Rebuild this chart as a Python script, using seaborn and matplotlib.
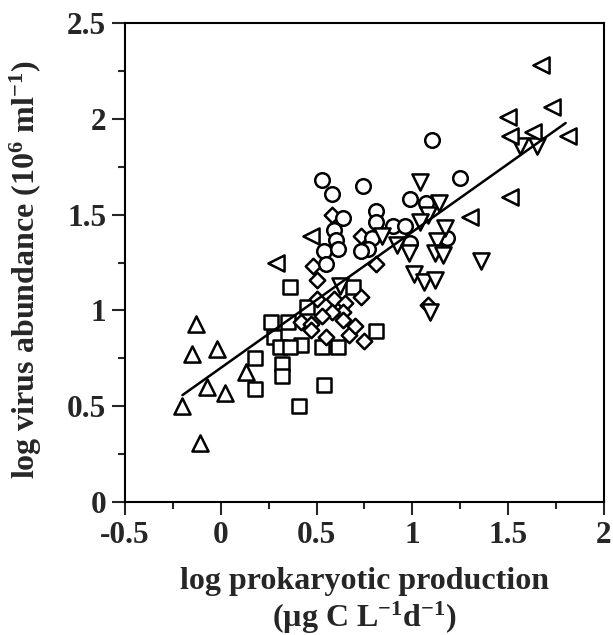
import numpy as np
import pandas as pd
import matplotlib
matplotlib.use("Agg")
import matplotlib.pyplot as plt
import seaborn as sns

# values, one pair of lists per symbol
up_x = [-0.13, -0.15, -0.02, -0.07, 0.02, 0.13, -0.20, -0.11]
up_y = [0.93, 0.77, 0.80, 0.60, 0.57, 0.68, 0.50, 0.31]

sq_x = [0.36, 0.26, 0.35, 0.28, 0.31, 0.18, 0.32, 0.32, 0.18, 0.41,
        0.54, 0.42, 0.53, 0.61, 0.81, 0.45, 0.69, 0.36]
sq_y = [1.12, 0.94, 0.94, 0.86, 0.81, 0.75, 0.72, 0.66, 0.59, 0.50,
        0.61, 0.82, 0.81, 0.81, 0.89, 1.02, 1.12, 0.81]

dia_x = [0.58, 0.73, 0.48, 0.50, 0.81, 0.73, 0.50, 0.59, 0.65, 0.64,
         0.42, 0.47, 0.58, 0.53, 0.64, 0.55, 0.67, 0.70, 0.75, 0.47, 1.08]
dia_y = [1.50, 1.39, 1.23, 1.16, 1.24, 1.07, 1.06, 1.06, 1.04, 0.99,
         0.94, 0.93, 0.99, 0.97, 0.95, 0.86, 0.87, 0.92, 0.84, 0.90, 1.03]

circ_x = [0.53, 0.58, 0.74, 1.25, 1.10, 0.99, 1.07, 0.64, 0.81, 0.81, 0.90,
          0.96, 0.59, 0.60, 0.79, 0.77, 0.99, 0.54, 0.61, 0.73, 0.55, 1.18]
circ_y = [1.68, 1.61, 1.65, 1.69, 1.89, 1.58, 1.56, 1.48, 1.52, 1.46, 1.44,
          1.44, 1.42, 1.37, 1.38, 1.32, 1.35, 1.31, 1.32, 1.31, 1.24, 1.38]

down_x = [1.04, 1.14, 1.08, 1.04, 0.92, 0.98, 1.17, 1.13, 1.12, 1.16,
          1.36, 1.01, 1.06, 1.12, 1.09, 0.62, 1.56, 1.65, 0.84]
down_y = [1.67, 1.56, 1.50, 1.46, 1.34, 1.30, 1.43, 1.36, 1.30, 1.29,
          1.26, 1.19, 1.15, 1.16, 0.99, 1.13, 1.86, 1.86, 1.39]

left_x = [0.29, 0.47, 1.30, 1.51, 1.50, 1.51, 1.63, 1.81, 1.73, 1.67]
left_y = [1.25, 1.39, 1.49, 1.59, 2.01, 1.91, 1.93, 1.91, 2.06, 2.28]

# regression line as drawn
fit_x = [-0.2, 1.8]
fit_intercept = 0.70
fit_slope = 0.71

groups = [
    ("sq", sq_x, sq_y, "s", 115),
    ("dia", dia_x, dia_y, "D", 62),
    ("up", up_x, up_y, "^", 135),
    ("circ", circ_x, circ_y, "o", 110),
    ("down", down_x, down_y, "v", 135),
    ("left", left_x, left_y, "<", 135),
]

frames = []
for name, xs, ys, m, sz in groups:
    frames.append(pd.DataFrame({"x": xs, "y": ys, "group": name}))
df = pd.concat(frames, ignore_index=True)

sns.set_style("ticks")
plt.rcParams["font.family"] = ["Liberation Serif", "DejaVu Serif"]
plt.rcParams["font.weight"] = "bold"
plt.rcParams["mathtext.fontset"] = "custom"
plt.rcParams["mathtext.rm"] = "Liberation Serif:bold"
plt.rcParams["mathtext.bf"] = "Liberation Serif:bold"
plt.rcParams["mathtext.default"] = "bf"

fig = plt.figure(figsize=(6.13, 6.35), dpi=100)
ax = fig.add_axes([0.2039, 0.2094, 0.7814, 0.7544])

for name, xs, ys, m, sz in groups:
    sns.scatterplot(data=df[df["group"] == name], x="x", y="y", marker=m, s=sz,
                    facecolor="white", edgecolor="black", linewidth=1.8,
                    ax=ax, zorder=3)

fx = np.array(fit_x)
ax.plot(fx, fit_intercept + fit_slope * fx, color="black", lw=1.8, zorder=4)

ax.set_xlim(-0.5, 2)
ax.set_ylim(0, 2.5)
ax.set_xticks([-0.5, 0, 0.5, 1, 1.5, 2])
ax.set_xticklabels(["-0.5", "0", "0.5", "1", "1.5", "2"])
ax.set_yticks([0, 0.5, 1, 1.5, 2, 2.5])
ax.set_yticklabels(["0", "0.5", "1", "1.5", "2", "2.5"])
ax.set_xticks(np.arange(-0.5, 2.01, 0.25), minor=True)
ax.set_yticks(np.arange(0, 2.51, 0.25), minor=True)
ax.tick_params(which="major", direction="out", length=9.5, width=1.5,
               labelsize=22.5, pad=4, top=False, right=False)
ax.tick_params(which="minor", direction="out", length=5, width=1.5,
               top=False, right=False)
for sp in ax.spines.values():
    sp.set_visible(True)
    sp.set_linewidth(1.5)
    sp.set_color("black")

ax.set_xlabel("log prokaryotic production\n(µg C L$^{-1}$d$^{-1}$)",
              fontsize=23, fontweight="bold", linespacing=1.15)
ax.set_ylabel("log virus abundance (10$^{6}$ ml$^{-1}$)",
              fontsize=23, fontweight="bold")
ax.xaxis.set_label_coords(0.5, -0.135)
ax.yaxis.set_label_coords(-0.17, 0.485)

fig.savefig("out.png", dpi=100)
